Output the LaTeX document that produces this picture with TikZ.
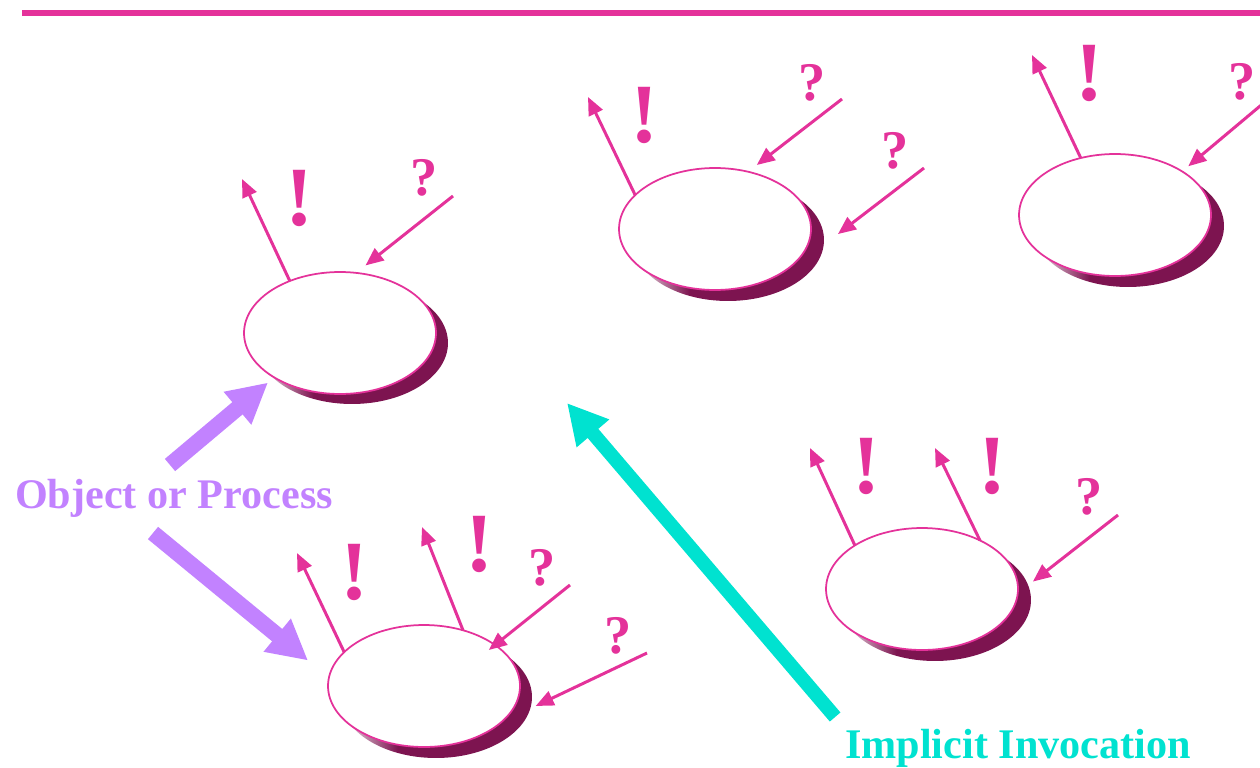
\documentclass[tikz,border=0pt]{standalone}
\usepackage{fontspec}
\setmainfont{Liberation Serif}
\usetikzlibrary{arrows.meta,shapes.geometric}
\definecolor{msgpink}{RGB}{228,50,154}
\definecolor{shadowpink}{RGB}{125,20,80}
\definecolor{objviolet}{RGB}{194,130,255}
\definecolor{invcyan}{RGB}{0,226,208}
\pgfdeclarehorizontalshading{shadowfade}{100bp}{color(0bp)=(shadowpink!10); color(25bp)=(shadowpink!10); color(40bp)=(shadowpink); color(100bp)=(shadowpink)}
\begin{document}
\begin{tikzpicture}[x=0.02cm, y=-0.02cm,
    objdisk/.style={ellipse, draw=msgpink, line width=0.035cm, fill=white, minimum width=3.84cm, minimum height=2.44cm, inner sep=0pt, outer sep=0pt},
    shadowdisk/.style={ellipse, minimum width=3.84cm, minimum height=2.44cm, inner sep=0pt, outer sep=0pt, shade, shading=shadowfade},
    bang/.style={text=msgpink, font=\fontsize{48}{52}\selectfont\bfseries, inner sep=0pt},
    query/.style={text=msgpink, font=\fontsize{31}{34}\selectfont\bfseries, inner sep=0pt},
    msg/.style={-{Triangle[length=0.36cm,width=0.3cm]}, draw=msgpink, line width=0.06cm},
    pointer/.style={-{Triangle[length=0.8cm,width=0.8cm]}, draw=objviolet, line width=0.32cm},
    invoke/.style={-{Triangle[length=0.8cm,width=0.8cm]}, draw=invcyan, line width=0.28cm},
    caption/.style={font=\fontsize{24}{28}\selectfont\bfseries, inner sep=0pt, anchor=base}]
    \useasboundingbox (0,0) rectangle (1260,767);
    \draw[msgpink, line width=0.12cm] (22,13) -- (1275,13);
    % objects
    \node[shadowdisk] (s1) at (352,343) {};
    \node[objdisk] (e1) at (340,333) {};
    \node[shadowdisk] (s2) at (728,240) {};
    \node[objdisk] (e2) at (715,229) {};
    \node[shadowdisk] (s3) at (1128,226) {};
    \node[objdisk] (e3) at (1115,215) {};
    \node[shadowdisk] (s4) at (935,600) {};
    \node[objdisk] (e4) at (922,589) {};
    \node[shadowdisk] (s5) at (436,697) {};
    \node[objdisk] (e5) at (424,686) {};
    % signs
    \node[bang] (b1) at (300,198) {!};
    \node[query] (q1) at (424,178) {?};
    \node[bang] (b2) at (645,115) {!};
    \node[query] (q2) at (812,83) {?};
    \node[query] (q3) at (895,151) {?};
    \node[bang] (b3) at (1090,73) {!};
    \node[query] (q4) at (1242,82) {?};
    \node[bang] (b4) at (867,466) {!};
    \node[bang] (b5) at (993,466) {!};
    \node[query] (q5) at (1089,497) {?};
    \node[bang] (b6) at (355,572) {!};
    \node[bang] (b7) at (480,544) {!};
    \node[query] (q6) at (542,568) {?};
    \node[query] (q7) at (618,636) {?};
    % free ends
    \coordinate (o1) at (242,179);
    \coordinate (o2) at (588,97);
    \coordinate (o3) at (1032,55);
    \coordinate (o4) at (810,448);
    \coordinate (o5) at (935,448);
    \coordinate (o6) at (297,553);
    \coordinate (o7) at (422,527);
    \coordinate (i1) at (453,196);
    \coordinate (i2) at (842,99);
    \coordinate (i3) at (924,168);
    \coordinate (i4) at (1272,96);
    \coordinate (i5) at (1118,515);
    \coordinate (i6) at (570,585);
    \coordinate (i7) at (647,653);
    % messages
    \draw[msg] (e1.134) -- (o1);
    \draw[msg, shorten >=0.24cm] (i1) -- (e1.75);
    \draw[msg] (e2.157) -- (o2);
    \draw[msg, shorten >=0.22cm] (i2) -- (e2.60);
    \draw[msg, shorten >=0.36cm] (i3) -- (s2.-3);
    \draw[msg] (e3.121) -- (o3);
    \draw[msg, shorten >=0.16cm] (i4) -- (e3.33);
    \draw[msg] (e4.147) -- (o4);
    \draw[msg] (e4.40) -- (o5);
    \draw[msg, shorten >=0.12cm] (i5) -- (s4.9);
    \draw[msg] (e5.157) -- (o6);
    \draw[msg] (e5.55) -- (o7);
    \draw[msg, shorten >=-0.16cm] (i6) -- (e5.30);
    \draw[msg, shorten >=0.12cm] (i7) -- (s5.-7);
    % captions
    \node[caption, text=objviolet] (obj) at (174,508) {Object or Process};
    \node[caption, text=invcyan] (inv) at (1018,758) {Implicit Invocation};
    \coordinate (objup) at (170,465);
    \coordinate (objdown) at (153,533);
    \coordinate (invtip) at (567,403);
    \draw[pointer, shorten >=0.16cm] (objup) -- (e1.214);
    \draw[pointer, shorten >=0.54cm] (objdown) -- (e5.175);
    \draw[invoke, shorten <=0.3cm] (inv.north west) -- (invtip);
\end{tikzpicture}
\end{document}
